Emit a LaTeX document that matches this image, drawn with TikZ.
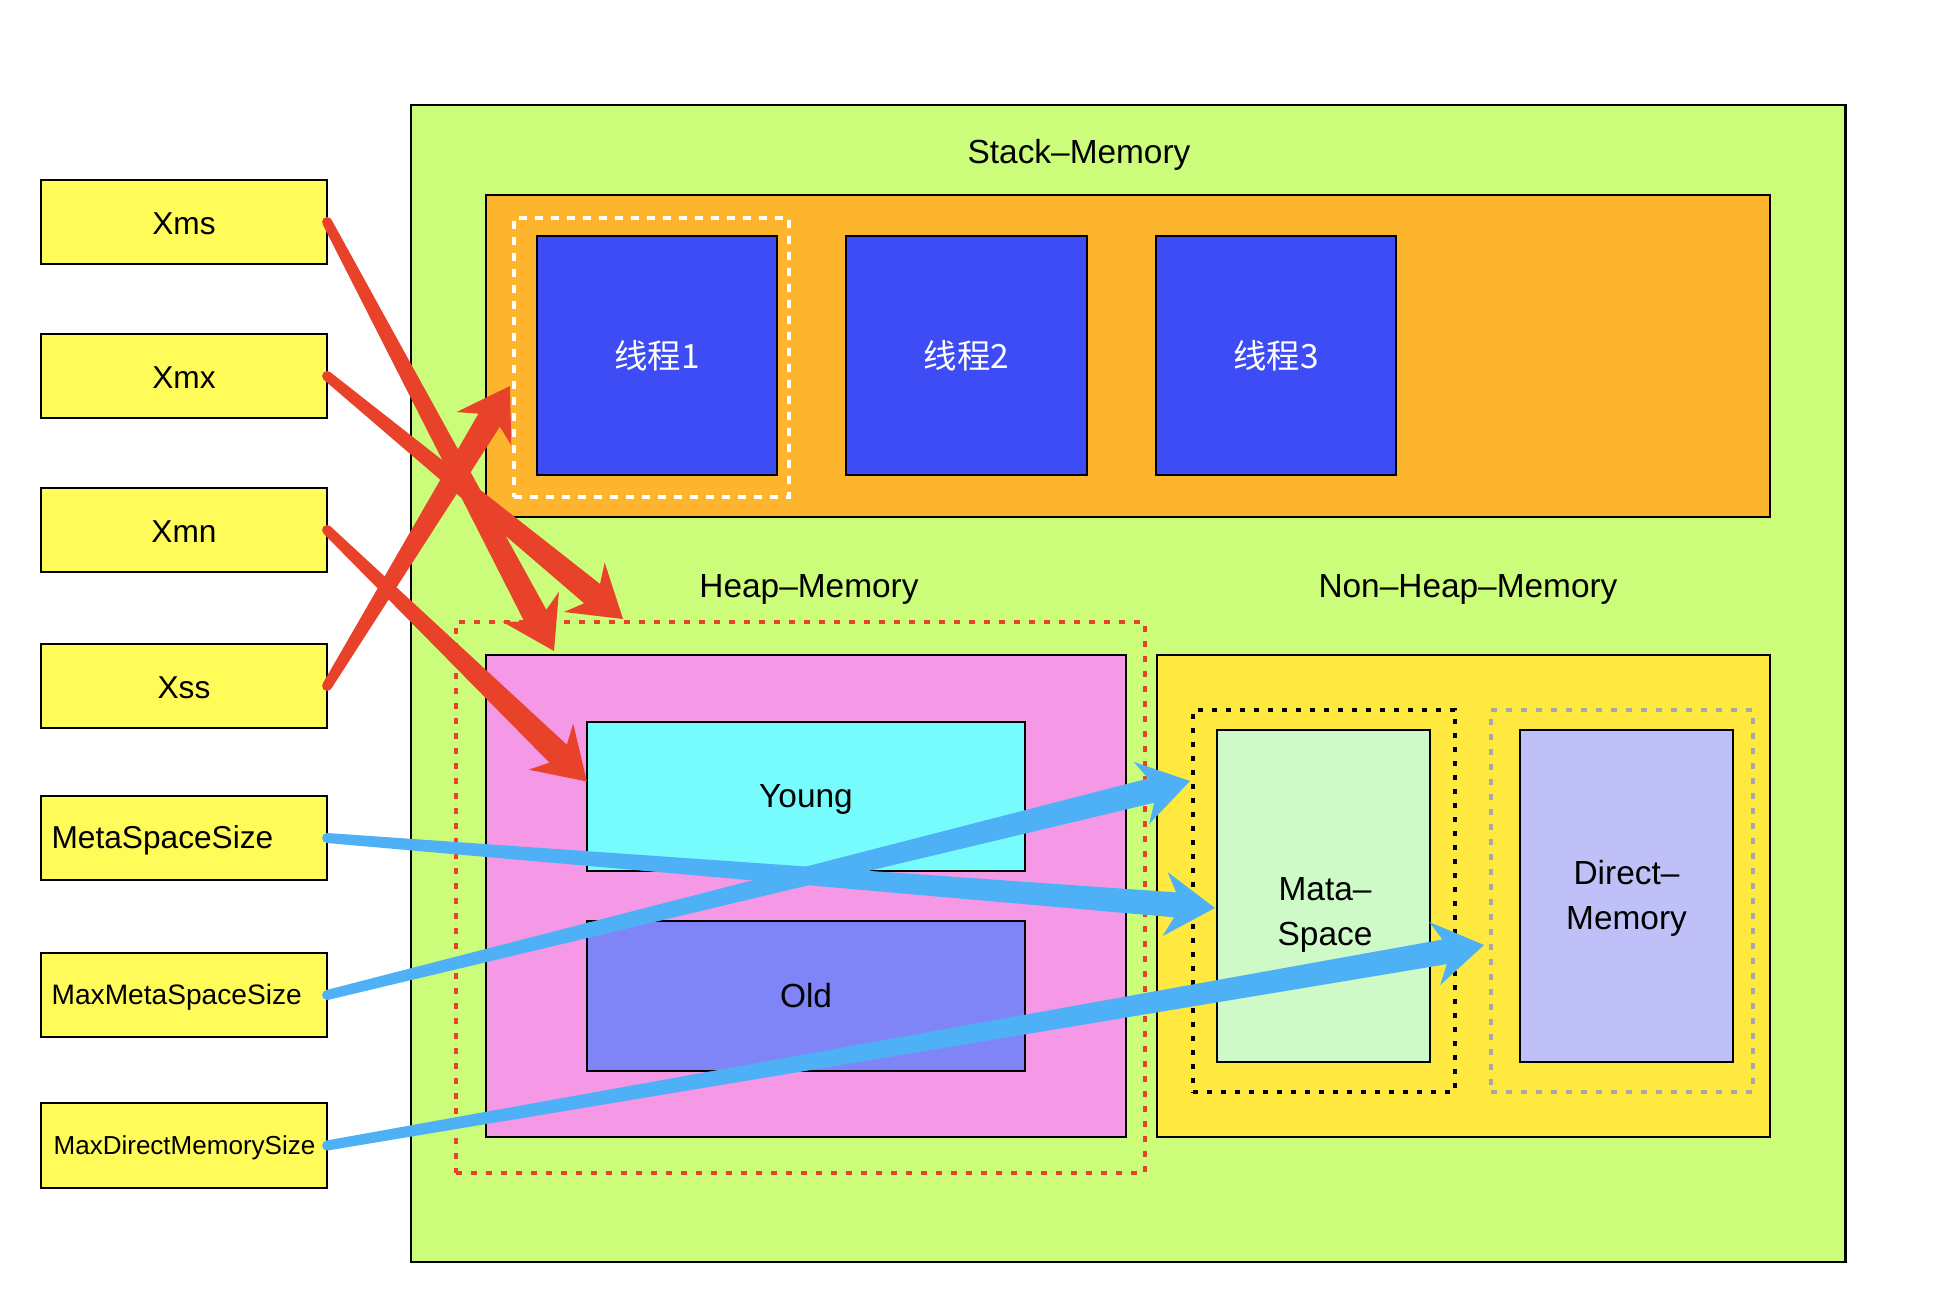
\documentclass[tikz,border=0pt]{standalone}
\usepackage{fontspec}
\setmainfont{Liberation Sans}
\newfontfamily\cjk{Noto Sans CJK SC}
\usetikzlibrary{calc}
\definecolor{cOuter}{RGB}{203,252,122}
\definecolor{cOrange}{RGB}{253,181,46}
\definecolor{cThread}{RGB}{61,76,245}
\definecolor{cPink}{RGB}{245,152,230}
\definecolor{cYoung}{RGB}{118,252,253}
\definecolor{cOld}{RGB}{127,133,247}
\definecolor{cNonHeap}{RGB}{255,232,63}
\definecolor{cMeta}{RGB}{205,250,198}
\definecolor{cDirect}{RGB}{192,192,248}
\definecolor{cParam}{RGB}{255,252,90}
\definecolor{cRed}{RGB}{232,67,42}
\definecolor{cBlue}{RGB}{78,177,245}
\definecolor{cGray}{RGB}{168,168,168}
\newcommand\rbox[6]{% name, style, x1,y1,x2,y2
  \node[#2, minimum width={(#5-#3)*0.1mm}, minimum height={(#6-#4)*0.1mm}] (#1) at ({(#3+#5)/2},{(#4+#6)/2}) {};}
\newcommand\fatarrow[3]{% from, to, colour
  \coordinate (fa-n) at ($(#2)!4mm!(#1)$);
  \coordinate (fa-h) at ($(#2)!5mm!(#1)$);
  \fill[#3] (#1) circle[radius=0.5mm];
  \fill[#3] ($(#1)!0.5mm!90:(#2)$) -- ($(fa-n)!1.25mm!90:(#2)$) -- ($(fa-h)!3.2mm!90:(#2)$) -- (#2)
    -- ($(fa-h)!3.2mm!-90:(#2)$) -- ($(fa-n)!1.25mm!-90:(#2)$) -- ($(#1)!0.5mm!-90:(#2)$) -- cycle;}
\tikzset{
  solidbox/.style={draw=black, line width=0.6pt, inner sep=0pt, outer sep=0pt},
  framebox/.style={inner sep=0pt, outer sep=0pt},
  lbl/.style={inner sep=0pt, font=\fontsize{9.5}{12.8}\selectfont, align=center},
  plbl/.style={inner sep=0pt, font=\fontsize{9}{11}\selectfont},
}
\begin{document}
\begin{tikzpicture}[x=0.01cm,y=-0.01cm]
\useasboundingbox (0,0) rectangle (1934,1298);
\fill[white] (0,0) rectangle (1934,1298);
% main areas
\rbox{outer}{solidbox, fill=cOuter}{411}{105}{1845}{1262}
\rbox{stack}{solidbox, fill=cOrange}{486}{195}{1770}{517}
\rbox{thsel}{framebox, draw=white, line width=0.32mm, dash pattern=on 0.8mm off 0.8mm}{514}{218}{789}{497}
\rbox{th1}{solidbox, fill=cThread}{537}{236}{777}{475}
\rbox{th2}{solidbox, fill=cThread}{846}{236}{1087}{475}
\rbox{th3}{solidbox, fill=cThread}{1156}{236}{1396}{475}
\rbox{heapsel}{framebox, draw=cRed, line width=0.35mm, dash pattern=on 0.6mm off 0.9mm}{456}{622}{1145}{1173}
\rbox{heap}{solidbox, fill=cPink}{486}{655}{1126}{1137}
\rbox{young}{solidbox, fill=cYoung}{587}{722}{1025}{871}
\rbox{old}{solidbox, fill=cOld}{587}{921}{1025}{1071}
\rbox{nonheap}{solidbox, fill=cNonHeap}{1157}{655}{1770}{1137}
\rbox{metasel}{framebox, draw=black, line width=0.4mm, dash pattern=on 0.5mm off 0.9mm}{1193}{710}{1455}{1092}
\rbox{meta}{solidbox, fill=cMeta}{1217}{730}{1430}{1062}
\rbox{dirsel}{framebox, draw=cGray, line width=0.35mm, dash pattern=on 0.6mm off 0.9mm}{1491}{710}{1753}{1092}
\rbox{direct}{solidbox, fill=cDirect}{1520}{730}{1733}{1062}
% parameter boxes
\rbox{xms}{solidbox, fill=cParam}{41}{180}{327}{264}
\rbox{xmx}{solidbox, fill=cParam}{41}{334}{327}{418}
\rbox{xmn}{solidbox, fill=cParam}{41}{488}{327}{572}
\rbox{xss}{solidbox, fill=cParam}{41}{644}{327}{728}
\rbox{mss}{solidbox, fill=cParam}{41}{796}{327}{880}
\rbox{mmss}{solidbox, fill=cParam}{41}{953}{327}{1037}
\rbox{mdms}{solidbox, fill=cParam}{41}{1103}{327}{1188}
% labels
\node[lbl] (lstack) at (1079,155) {Stack–Memory};
\node[lbl] (lheap) at (809,589) {Heap–Memory};
\node[lbl] (lnonheap) at (1468,589) {Non–Heap–Memory};
\node[lbl, text=white] (lth1) at (th1.center) {\cjk 线程1};
\node[lbl, text=white] (lth2) at (th2.center) {\cjk 线程2};
\node[lbl, text=white] (lth3) at (th3.center) {\cjk 线程3};
\node[lbl] (lyoung) at ($(young.center)+(0,3)$) {Young};
\node[lbl] (lold) at (old.center) {Old};
\node[lbl] (lmeta) at (1325,915) {Mata–\\Space};
\node[lbl] (ldirect) at ($(direct.center)+(0,2)$) {Direct–\\Memory};
\node[plbl] (lxms) at ($(xms.center)+(0,2)$) {Xms};
\node[plbl] (lxmx) at ($(xmx.center)+(0,2)$) {Xmx};
\node[plbl] (lxmn) at ($(xmn.center)+(0,2)$) {Xmn};
\node[plbl] (lxss) at ($(xss.center)+(0,2)$) {Xss};
\node[plbl, anchor=west] (lmss) at ($(mss.west)+(10,2)$) {MetaSpaceSize};
\node[plbl, anchor=west, font=\fontsize{8}{10}\selectfont] (lmmss) at ($(mmss.west)+(10,2)$) {MaxMetaSpaceSize};
\node[plbl, anchor=west, font=\fontsize{7.4}{9}\selectfont] (lmdms) at ($(mdms.west)+(12,2)$) {MaxDirectMemorySize};
% arrow targets
\coordinate (tXms) at (554,651);
\coordinate (tXmx) at (623,619);
\coordinate (tXmn) at ($(young.west)+(0,-15)$);
\coordinate (tXss) at (510,386);
\coordinate (tMss) at (1215,908);
\coordinate (tMmss) at (1190,781);
\coordinate (tMdms) at (1484,945);
% arrows
\fatarrow{xms.east}{tXms}{cRed}
\fatarrow{xmx.east}{tXmx}{cRed}
\fatarrow{xmn.east}{tXmn}{cRed}
\fatarrow{xss.east}{tXss}{cRed}
\fatarrow{mss.east}{tMss}{cBlue}
\fatarrow{mmss.east}{tMmss}{cBlue}
\fatarrow{mdms.east}{tMdms}{cBlue}
\end{tikzpicture}
\end{document}
